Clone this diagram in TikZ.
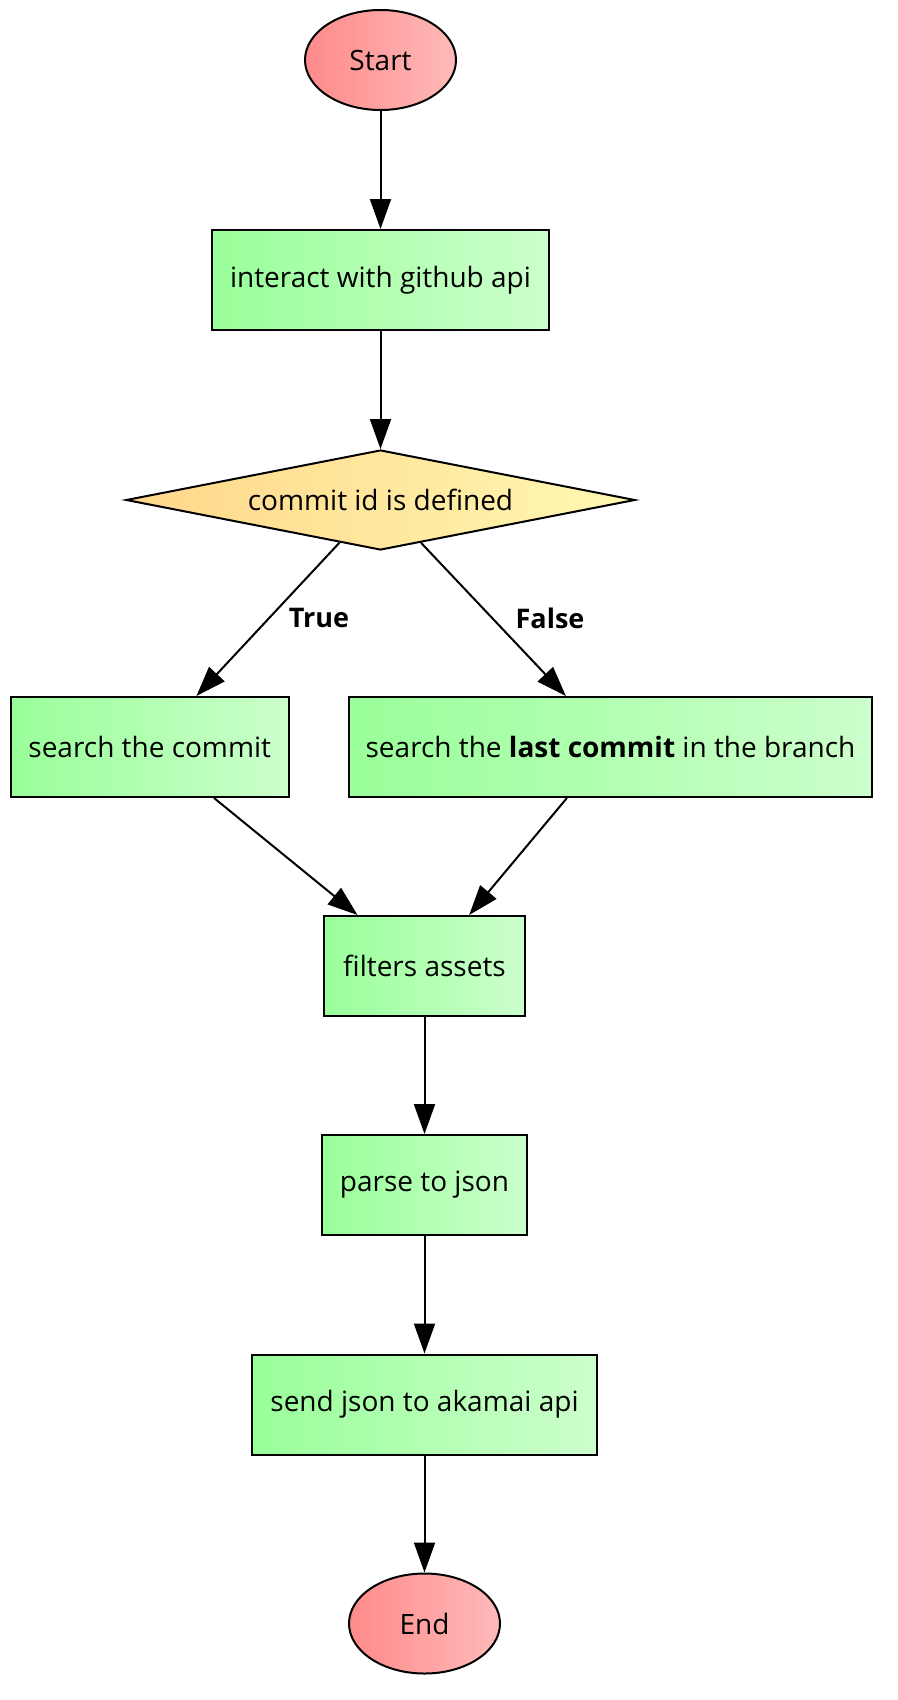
\documentclass[tikz,border=0pt]{standalone}
\usepackage{fontspec}
\setmainfont{Open Sans}
\usetikzlibrary{shapes.geometric,arrows.meta,calc}

\definecolor{redL}{HTML}{FF8A8A}
\definecolor{redR}{HTML}{FFBABA}
\definecolor{greenL}{HTML}{99FF99}
\definecolor{greenR}{HTML}{CCFFCC}
\definecolor{yelL}{HTML}{FFD68A}
\definecolor{yelR}{HTML}{FFF9B2}

\tikzset{
  base/.style={draw=black, line width=2pt, inner sep=0pt,
    font=\fontsize{28}{33}\selectfont, text=black},
  terminal/.style={base, ellipse, minimum width=151pt, minimum height=100pt,
    left color=redL, right color=redR},
  process/.style={base, rectangle, minimum height=100pt,
    left color=greenL, right color=greenR},
  decision/.style={base, diamond, shape aspect=5, minimum width=509pt,
    minimum height=100pt, left color=yelL, right color=yelR},
  flow/.style={line width=2pt, -{Triangle[length=30pt,width=21pt]}},
  edgelabel/.style={font=\fontsize{27}{32}\selectfont\bfseries, inner sep=0pt}
}

\begin{document}
\begin{tikzpicture}[x=1pt, y=-1pt]
  \useasboundingbox (0,0) rectangle (897,1700);

  % nodes
  \node[terminal] (start) at (380.5,60) {Start};
  \node[process, minimum width=337pt] (gh) at (380.5,280) {interact with github api};
  \node[decision] (dec) at (380.5,500) {commit id is defined};
  \node[process, minimum width=277.5pt] (sc) at (149.75,747) {search the commit};
  \node[process, minimum width=523pt] (lc) at (610.5,747)
    {search the \textbf{last commit} in the branch};
  \node[process, minimum width=201pt] (fa) at (424.5,966) {filters assets};
  \node[process, minimum width=205pt] (pj) at (424.5,1185) {parse to json};
  \node[process, minimum width=345pt] (sj) at (424.5,1404.5) {send json to akamai api};
  \node[terminal] (end) at (424.5,1623.5) {End};

  % branch labels
  \node[edgelabel] (ltrue) at (319,618) {True};
  \node[edgelabel] (lfalse) at (550,618) {False};

  % connectors
  \draw[flow] (start.south) -- (gh.north);
  \draw[flow] (gh.south) -- (dec.north);
  \draw[flow] ($(dec.south)!0.161!(dec.west)$)
    -- ($(sc.north west)!0.667!(sc.north east)$);
  \draw[flow] ($(dec.south)!0.159!(dec.east)$)
    -- ($(lc.north west)!0.415!(lc.north east)$);
  \draw[flow] ($(sc.south west)!0.73!(sc.south east)$)
    -- ($(fa.north west)!0.17!(fa.north east)$);
  \draw[flow] ($(lc.south west)!0.417!(lc.south east)$)
    -- ($(fa.north west)!0.72!(fa.north east)$);
  \draw[flow] (fa.south) -- (pj.north);
  \draw[flow] (pj.south) -- (sj.north);
  \draw[flow] (sj.south) -- (end.north);
\end{tikzpicture}
\end{document}
